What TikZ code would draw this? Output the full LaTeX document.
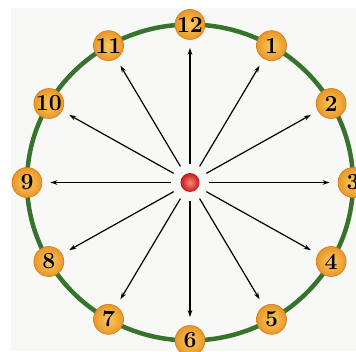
\documentclass[tikz,border=0pt]{standalone}
\usepackage{fontspec}
\usetikzlibrary{arrows.meta}

\definecolor{ringgreen}{RGB}{56,115,46}
\definecolor{ballin}{RGB}{250,202,96}
\definecolor{ballout}{RGB}{234,150,38}
\definecolor{balledge}{RGB}{205,125,30}
\definecolor{paper}{RGB}{248,248,247}

\begin{document}
\begin{tikzpicture}[
x=1pt,y=1pt,
hour/.style={circle,draw=balledge,line width=0.6pt,inner color=ballin,outer color=ballout,
  minimum size=30pt,inner sep=0pt,font=\fontsize{23}{23}\selectfont\bfseries},
charge/.style={circle,minimum size=19pt,inner sep=0pt,
  inner color={rgb,255:red,245;green,140;blue,125},outer color={rgb,255:red,200;green,22;blue,20}},
ray/.style={-{Stealth[length=7pt,width=4.5pt]},line width=1.2pt,shorten <=9pt,shorten >=8pt}
]

\useasboundingbox (-190,-168.5) rectangle (166,182.5);
\clip (-190,-168.5) rectangle (166,182.5);
\fill[paper] (-179,174.5) rectangle (166,-168.5);

\draw[ringgreen,line width=4.5pt] (0,0) ellipse (163 and 158);

\node[charge] (dot) at (0,0) {};

\node[hour] (n12) at (90:163 and 158) {12};
\node[hour] (n1) at (60:163 and 158) {1};
\node[hour] (n2) at (30:163 and 158) {2};
\node[hour] (n3) at (0:163 and 158) {3};
\node[hour] (n4) at (-30:163 and 158) {4};
\node[hour] (n5) at (-60:163 and 158) {5};
\node[hour] (n6) at (-90:163 and 158) {6};
\node[hour] (n7) at (-120:163 and 158) {7};
\node[hour] (n8) at (-150:163 and 158) {8};
\node[hour] (n9) at (180:163 and 158) {9};
\node[hour] (n10) at (150:163 and 158) {10};
\node[hour] (n11) at (120:163 and 158) {11};

\draw[ray] (dot) -- (n12);
\draw[ray] (dot) -- (n1);
\draw[ray] (dot) -- (n2);
\draw[ray] (dot) -- (n3);
\draw[ray] (dot) -- (n4);
\draw[ray] (dot) -- (n5);
\draw[ray] (dot) -- (n6);
\draw[ray] (dot) -- (n7);
\draw[ray] (dot) -- (n8);
\draw[ray] (dot) -- (n9);
\draw[ray] (dot) -- (n10);
\draw[ray] (dot) -- (n11);

\end{tikzpicture}
\end{document}
